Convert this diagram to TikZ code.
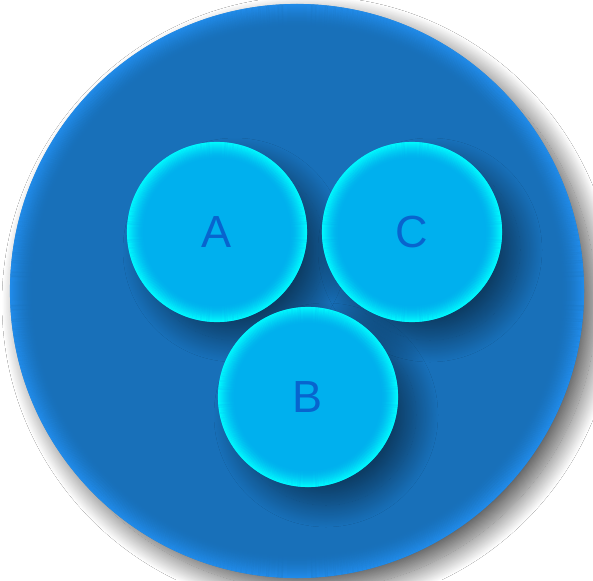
\documentclass[tikz,border=0pt]{standalone}
\usepackage{fontspec}
\setmainfont{Liberation Sans}
\usetikzlibrary{shadows.blur}
\definecolor{bigin}{RGB}{24,112,185}
\definecolor{bigrim}{RGB}{34,142,238}
\definecolor{smin}{RGB}{0,176,238}
\definecolor{smrim}{RGB}{0,252,255}
\definecolor{labelblue}{RGB}{8,100,206}
\tikzset{
  outerdisc/.style={circle, inner sep=0pt, minimum size=574pt, fill=bigin,
    blur shadow={shadow xshift=12pt, shadow yshift=-12pt, shadow blur radius=20pt, shadow opacity=65, shadow blur steps=30}},
  setdisc/.style={circle, inner sep=0pt, minimum size=180pt, fill=smin,
    text=labelblue, font=\fontsize{45}{45}\selectfont,
    blur shadow={shadow xshift=18pt, shadow yshift=-18pt, shadow blur radius=22pt, shadow opacity=45, shadow blur steps=30}},
  rimring/.style={line width=1.15pt}
}
\begin{document}
\begin{tikzpicture}[x=1pt,y=-1pt]
\useasboundingbox (0,0) rectangle (593,580);
\fill[white] (0,0) rectangle (593,580);
\node[outerdisc] (disc) at (297,291) {};
\foreach \i in {0,...,24}{
  \pgfmathsetmacro\op{0.9*(1-\i/25)^2}
  \draw[rimring, bigrim, draw opacity=\op] (disc.center) circle[radius=286.5-\i];
}
\node[setdisc] (A) at (217,232) {A};
\node[setdisc] (C) at (412,232) {C};
\node[setdisc] (B) at (308,397) {B};
\foreach \n in {A,B,C}{
  \foreach \i in {0,...,17}{
    \pgfmathsetmacro\op{0.95*(1-\i/18)^2}
    \draw[rimring, smrim, draw opacity=\op] (\n.center) circle[radius=89.5-\i];
  }
}
\end{tikzpicture}
\end{document}
